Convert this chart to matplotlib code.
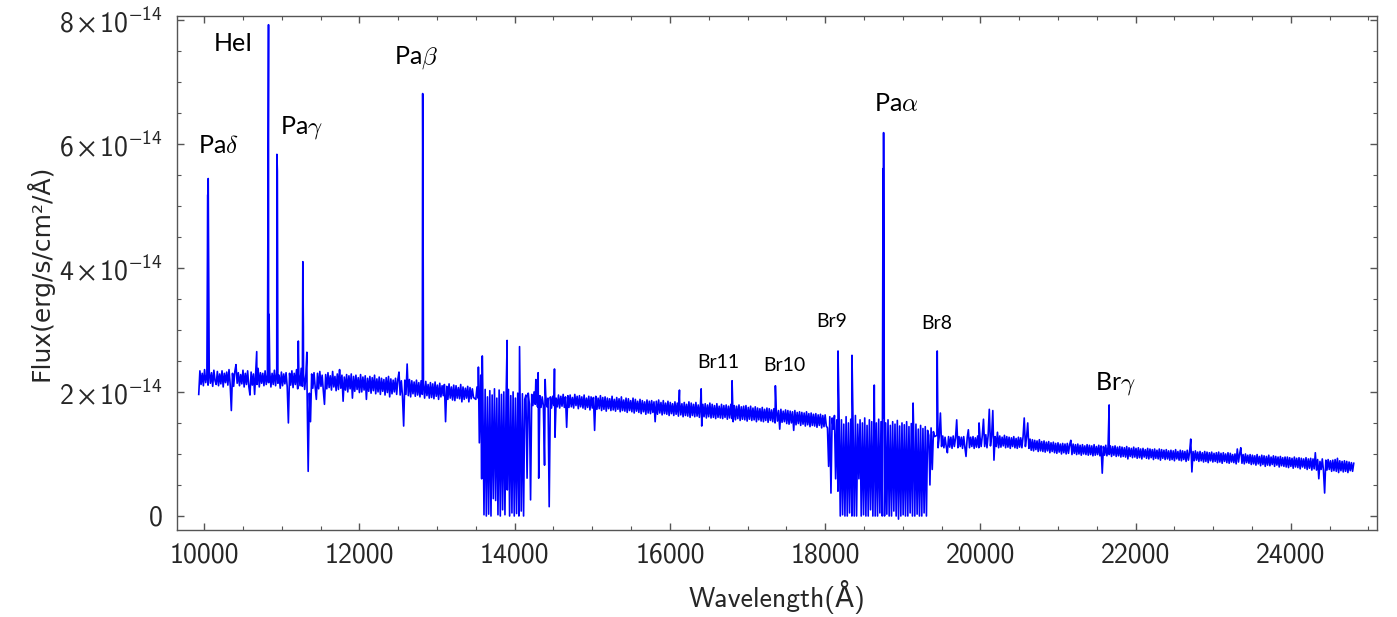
import numpy as np
import matplotlib.pyplot as plt
from matplotlib.ticker import MultipleLocator, FixedLocator, FuncFormatter

# flux values in units of 1e-14 erg/s/cm^2/A
# every segment is (start wavelength, step in A, flux list)
j_start, j_step = 9930, 15
flux_j = [1.96, 2.34, 2.12, 2.30, 2.10, 2.36, 2.15, 2.28, 2.11, 2.33,
          2.14, 2.31, 2.09, 2.35, 2.18, 2.12, 2.33, 2.10, 2.29, 2.13,
          2.34, 2.08, 2.30, 2.15, 2.32, 2.11, 2.36, 2.12, 1.70, 2.30,
          2.09, 2.33, 2.44, 2.14, 2.31, 2.10, 2.28, 2.13, 2.35, 2.08,
          2.30, 2.12, 2.34, 2.09, 1.95, 2.32, 2.11, 2.29, 1.96, 2.33,
          2.12, 2.38, 2.08, 2.31, 2.14, 2.30, 2.10, 2.34, 2.12, 2.28,
          2.15, 2.33, 2.08, 2.30, 2.12, 2.35, 2.10, 2.31, 2.14, 2.27,
          2.06, 2.32, 2.10, 2.29, 2.13, 2.31, 2.08, 1.50, 2.30, 2.11,
          2.34, 2.07, 2.30, 2.12, 2.36, 2.05, 2.28, 2.10, 2.38, 2.09,
          2.30, 2.04, 2.27, 2.10, 0.72, 1.98, 1.52, 2.29, 2.06, 2.31,
          2.08, 1.88, 2.30, 2.05, 2.33, 2.09, 2.27, 2.02, 1.80, 2.28,
          2.05, 2.31, 2.07, 2.26, 2.03, 2.33, 2.08, 2.25, 2.02, 2.29,
          2.04, 2.36, 2.06, 2.27, 1.85, 2.24, 2.03, 2.28, 2.00, 2.26,
          2.05, 2.29, 1.90, 2.25, 2.01, 2.27, 2.04, 2.23, 1.99, 2.28,
          2.00, 2.24, 2.03, 2.26, 1.88, 2.22, 2.01, 2.25, 1.98, 2.23,
          2.02, 2.27, 1.97, 2.21, 2.00, 2.24, 1.96, 2.22, 2.01, 2.20,
          1.95, 2.23, 1.99, 2.25, 1.92, 2.21, 1.97, 2.19, 2.00, 2.22,
          1.96, 2.20, 2.32, 1.95, 2.18, 1.93, 1.45, 2.19, 1.96, 2.45,
          1.94, 2.20, 1.92, 2.18, 1.97, 2.16, 1.93, 2.19, 1.95, 2.15,
          1.92, 2.18, 1.96, 2.14, 1.90, 2.17, 1.94, 2.12, 1.90, 2.15,
          1.91, 2.13, 1.89, 2.16, 1.93, 2.11, 1.88, 2.14, 1.92, 2.10,
          1.94, 2.12, 1.52, 2.09, 1.88, 2.13, 1.90, 2.08, 1.87, 2.11,
          1.86, 2.10, 1.90, 2.07, 1.89, 2.12, 1.84, 2.08, 1.88, 2.06,
          1.90, 2.09, 1.84, 2.07, 1.89, 2.05, 1.91]

# telluric band between J and H
t1_start, t1_step = 13500, 15
flux_t1 = [1.88, 2.08, 1.90, 1.18, 2.05, 0.60, 1.98, 0.02, 2.04, 0.00,
           1.92, 0.03, 2.02, 0.00, 1.95, 0.28, 2.05, 0.25, 1.90, 0.02,
           2.03, 0.00, 1.96, 0.10, 2.00, 0.02, 1.92, 0.42, 2.04, 0.00,
           1.94, 0.05, 2.00, 0.00, 1.90, 0.04, 1.98, 0.00, 1.93, 0.08,
           1.97, 0.00, 1.88, 1.95, 0.61, 1.98, 1.80, 0.26, 1.96, 1.78,
           2.00, 1.80, 1.95, 1.76, 0.61, 1.94, 1.75, 1.92, 1.78, 0.82,
           1.95, 1.76, 1.90, 0.15, 1.92, 1.74, 1.93, 1.78, 1.27, 1.90]

h_start, h_step = 14550, 15
flux_h = [1.76, 1.95, 1.74, 1.93, 1.77, 1.96, 1.75, 1.92, 1.43, 1.94,
          1.75, 1.95, 1.76, 1.91, 1.74, 1.96, 1.78, 1.93, 1.73, 1.94,
          1.76, 1.92, 1.74, 1.95, 1.72, 1.90, 1.75, 1.93, 1.71, 1.92,
          1.74, 1.91, 1.38, 1.93, 1.72, 1.90, 1.73, 1.94, 1.70, 1.91,
          1.72, 1.92, 1.69, 1.90, 1.73, 1.89, 1.70, 1.93, 1.71, 1.88,
          1.69, 1.91, 1.72, 1.89, 1.68, 1.92, 1.70, 1.87, 1.69, 1.90,
          1.67, 1.89, 1.70, 1.86, 1.68, 1.90, 1.66, 1.88, 1.69, 1.85,
          1.67, 1.88, 1.65, 1.86, 1.68, 1.84, 1.64, 1.87, 1.66, 1.85,
          1.65, 1.86, 1.67, 1.84, 1.52, 1.85, 1.64, 1.87, 1.66, 1.83,
          1.63, 1.86, 1.65, 1.82, 1.64, 1.85, 1.62, 1.83, 1.65, 1.81,
          1.62, 1.84, 1.64, 1.82, 1.61, 1.85, 1.63, 1.81, 1.60, 1.83,
          1.62, 1.80, 1.61, 1.84, 1.59, 1.82, 1.62, 1.80, 1.60, 1.83,
          1.61, 1.79, 1.59, 1.82, 1.45, 1.80, 1.60, 1.81, 1.58, 1.79,
          1.60, 1.82, 1.58, 1.80, 1.59, 1.78, 1.57, 1.81, 1.59, 1.77,
          1.58, 1.80, 1.57, 1.78, 1.59, 1.79, 1.56, 1.77, 1.58, 1.80,
          1.57, 1.52, 1.78, 1.55, 1.77, 1.57, 1.79, 1.54, 1.76, 1.56,
          1.77, 1.55, 1.78, 1.53, 1.75, 1.56, 1.77, 1.54, 1.74, 1.55,
          1.76, 1.52, 1.74, 1.55, 1.73, 1.53, 1.75, 1.52, 1.72, 1.54,
          1.74, 1.51, 1.73, 1.54, 1.71, 1.52, 1.73, 1.50, 1.72, 1.53,
          1.70, 1.40, 1.72, 1.51, 1.69, 1.52, 1.71, 1.49, 1.70, 1.48,
          1.69, 1.50, 1.68, 1.38, 1.70, 1.47, 1.67, 1.49, 1.68, 1.46,
          1.67, 1.48, 1.66, 1.45, 1.68, 1.47, 1.65, 1.44, 1.66, 1.46,
          1.64, 1.45, 1.65, 1.43, 1.63, 1.46, 1.64, 1.42, 1.62, 1.44,
          1.63, 1.45]

# telluric band between H and K
t2_start, t2_step = 18030, 15
flux_t2 = [1.42, 0.80, 1.60, 0.37, 1.58, 1.40, 1.62, 0.60, 1.55, 0.40,
           1.60, 0.00, 1.55, 0.02, 1.48, 0.00, 1.60, 0.00, 1.50, 0.05,
           1.56, 0.00, 1.45, 0.00, 1.62, 0.00, 1.48, 0.60, 1.55, 0.00,
           1.50, 0.02, 1.58, 0.00, 1.46, 0.00, 1.55, 0.10, 1.52, 0.00,
           1.60, 0.00, 1.50, 0.00, 1.56, 0.05, 1.52, 0.00, 1.58, 0.00,
           1.50, 0.03, 1.55, 0.00, 1.46, 0.00, 1.52, 0.08, 1.48, 0.00,
           1.54, -0.05, 1.45, 0.00, 1.50, 0.02, 1.47, 0.00, 1.52, 0.00,
           1.44, 0.05, 1.49, 0.00, 1.42, 0.00, 1.48, 0.03, 1.40, 0.00,
           1.46, 0.00, 1.41, 0.05, 1.44, 0.00, 1.38, 1.30, 0.50, 1.42,
           0.75, 1.36, 1.28]

k_start, k_step = 19440, 15
flux_k = [1.30, 1.10, 1.28, 1.66, 1.12, 1.29, 1.10, 1.27, 1.12, 1.02,
          1.28, 1.11, 1.27, 1.09, 1.29, 1.12, 1.26, 1.55, 1.10, 1.28,
          1.12, 1.27, 1.09, 1.28, 1.11, 0.96, 1.26, 1.39, 1.10, 1.27,
          1.12, 1.28, 1.09, 1.26, 1.11, 1.29, 1.10, 1.27, 1.12, 1.30,
          1.56, 1.12, 1.31, 1.10, 1.30, 1.72, 1.13, 1.29, 1.70, 0.90,
          1.28, 1.12, 1.35, 1.10, 1.29, 1.11, 1.27, 1.13, 1.30, 1.10,
          1.28, 1.11, 1.27, 1.09, 1.26, 1.12, 1.28, 1.10, 1.25, 1.09,
          1.27, 1.11, 1.26, 1.10, 1.28, 1.58, 1.12, 1.27, 1.50, 1.09,
          1.24, 1.06, 1.23, 1.05, 1.22, 1.07, 1.21, 1.04, 1.23, 1.05,
          1.20, 1.04, 1.21, 1.03, 1.19, 1.05, 1.20, 1.02, 1.18, 1.04,
          1.19, 1.02, 1.17, 1.01, 1.18, 1.03, 1.16, 1.00, 1.17, 1.02,
          1.16, 1.00, 1.17, 1.01, 1.15, 1.22, 0.99, 1.16, 1.01, 1.15,
          0.99, 1.16, 1.00, 1.14, 0.98, 1.15, 1.00, 1.13, 0.99, 1.15,
          0.98, 1.14, 0.99, 1.13, 0.97, 1.15, 0.98, 1.12, 0.99, 1.14,
          0.97, 1.13, 0.69, 1.12, 0.98, 1.14, 0.97, 1.12, 0.99, 1.13,
          0.96, 1.12, 0.98, 1.13, 0.96, 1.11, 0.97, 1.12, 0.95, 1.11,
          0.96, 1.10, 0.95, 1.12, 0.92, 1.10, 0.96, 1.09, 0.94, 1.11,
          0.95, 1.09, 0.93, 1.10, 0.94, 1.08, 0.92, 1.09, 0.95, 1.07,
          0.93, 1.09, 0.92, 1.08, 0.94, 1.07, 0.91, 1.08, 0.93, 1.06,
          0.92, 1.08, 0.90, 1.07, 0.93, 1.06, 0.91, 1.07, 0.92, 1.05,
          0.90, 1.06, 0.91, 1.05, 0.89, 1.07, 0.92, 1.04, 0.90, 1.06,
          0.89, 1.05, 0.91, 1.04, 0.88, 1.06, 0.90, 1.03, 1.24, 0.71,
          1.04, 0.89, 1.05, 0.90, 1.03, 0.88, 1.04, 0.89, 1.02, 0.87,
          1.04, 0.88, 1.03, 0.86, 1.02, 0.89, 1.03, 0.87, 1.01, 0.88,
          1.02, 0.86, 1.03, 0.87, 1.01, 0.85, 1.02, 0.88, 1.00, 0.86,
          1.02, 0.85, 1.01, 0.87, 0.99, 0.86, 1.00, 0.84, 1.08, 0.87,
          1.00, 1.10, 0.85, 0.99, 0.84, 1.00, 0.86, 0.98, 0.85, 0.99,
          0.83, 0.98, 0.84, 0.97, 0.82, 0.99, 0.84, 0.96, 0.81, 0.98,
          0.83, 0.97, 0.80, 0.96, 0.82, 0.98, 0.81, 0.95, 0.83, 0.97,
          0.80, 0.96, 0.82, 0.95, 0.79, 0.96, 0.81, 0.94, 0.80, 0.95,
          0.79, 0.95, 0.78, 0.94, 0.80, 0.93, 0.77, 0.95, 0.79, 0.93,
          0.78, 0.94, 0.76, 0.93, 0.79, 0.92, 0.77, 0.94, 0.75, 0.92,
          0.77, 0.93, 0.74, 0.92, 0.76, 1.02, 0.74, 0.91, 0.60, 0.88,
          0.75, 0.92, 0.73, 0.37, 0.90, 0.74, 0.91, 0.75, 0.89, 0.72,
          0.90, 0.73, 0.91, 0.72, 0.93, 0.70, 0.89, 0.73, 0.88, 0.71,
          0.89, 0.72, 0.88, 0.70, 0.87, 0.73, 0.86, 0.72, 0.85]

# narrow emission spikes
spike_wave = [10046, 10052, 10677, 10829, 10836, 10937, 10943, 11213, 11271,
              11278, 11323, 11743, 12815, 12822, 13533, 13563, 13583, 13903,
              14063, 14273, 14303, 14393, 14513, 16123, 16403, 16801, 17359,
              18166, 18173, 18346, 18633, 18746, 18753, 19133, 19444, 19983,
              21659]
spike_flux = [5.18, 5.44, 2.65, 7.92, 3.25, 5.83, 5.56, 2.82, 4.10,
              3.05, 2.64, 2.35, 6.81, 3.98, 2.40, 2.27, 2.58, 2.83,
              2.73, 2.20, 2.31, 2.20, 2.37, 2.03, 2.05, 2.18, 2.10,
              2.66, 2.15, 2.59, 2.11, 5.60, 6.18, 1.82, 2.66, 1.50,
              1.79]

# y tick values (units of 1e-14)
y_ticks = [0, 2, 4, 6, 8]

# line identifications
big_names = ['Pa$\\delta$', 'HeI', 'Pa$\\gamma$', 'Pa$\\beta$', 'Pa$\\alpha$', 'Br$\\gamma$']
big_x = [10180, 10374, 11249, 12731, 18913, 21734]
big_y = [5.97, 7.61, 6.27, 7.39, 6.65, 2.13]
small_names = ['Br11', 'Br10', 'Br9', 'Br8']
small_x = [16620, 17470, 18089, 19441]
small_y = [2.48, 2.42, 3.13, 3.11]


def build_spectrum():
    segs = [(j_start, j_step, flux_j), (t1_start, t1_step, flux_t1),
            (h_start, h_step, flux_h), (t2_start, t2_step, flux_t2),
            (k_start, k_step, flux_k)]
    wave = [s + st*np.arange(len(v)) for s, st, v in segs] + [np.array(spike_wave)]
    flux = [np.array(v) for s, st, v in segs] + [np.array(spike_flux)]
    wave = np.concatenate(wave).astype(float)
    flux = np.concatenate(flux)*1e-14
    order = np.argsort(wave, kind='stable')
    return wave[order], flux[order]


def yfmt(v, pos):
    m = int(round(v/1e-14))
    if m == 0:
        return '0'
    return r'$%d\times10^{-14}$' % m


plt.rcParams['font.family'] = ['cmss10', 'DejaVu Sans']
plt.rcParams['mathtext.fontset'] = 'custom'
plt.rcParams['mathtext.rm'] = 'cmss10'
plt.rcParams['mathtext.it'] = 'cmss10'
plt.rcParams['mathtext.sf'] = 'cmss10'
plt.rcParams['mathtext.fallback'] = 'stixsans'
plt.rcParams['axes.unicode_minus'] = False

wave, flux = build_spectrum()

fig = plt.figure(figsize=(13.97, 6.17), dpi=100)
ax = fig.add_axes([0.1267, 0.141, 0.859, 0.833])
ax.plot(wave, flux, color='#0000ff', lw=1.2)

ax.set_xlim(9650, 25110)
ax.set_ylim(-0.226e-14, 8.06e-14)
ax.xaxis.set_major_locator(MultipleLocator(2000))
ax.xaxis.set_minor_locator(MultipleLocator(500))
ax.yaxis.set_major_locator(FixedLocator([t*1e-14 for t in y_ticks]))
ax.yaxis.set_minor_locator(MultipleLocator(0.5e-14))
ax.yaxis.set_major_formatter(FuncFormatter(yfmt))
ax.tick_params(which='both', direction='in', top=True, right=True,
               color='#555555', labelsize=20, labelcolor='#262626')
ax.tick_params(which='major', length=5, width=1)
ax.tick_params(which='minor', length=3, width=0.8)
ax.tick_params(axis='x', pad=9)
ax.tick_params(axis='y', pad=10)
for sp in ax.spines.values():
    sp.set_color('#555555')
    sp.set_linewidth(1.0)

ax.set_xlabel('Wavelength(Å)', fontsize=20, color='#262626', labelpad=9)
ax.set_ylabel('Flux(erg/s/cm²/Å)', fontsize=18, color='#262626',
              family='DejaVu Sans', labelpad=4)

for name, x, y in zip(big_names, big_x, big_y):
    ax.text(x, y*1e-14, name, fontsize=18, family='Lato', math_fontfamily='cm',
            ha='center', va='center', color='black')
for name, x, y in zip(small_names, small_x, small_y):
    ax.text(x, y*1e-14, name, fontsize=14, family='Lato',
            ha='center', va='center', color='black')

plt.savefig('out.png', dpi=100)
print('Generated out.png.')
